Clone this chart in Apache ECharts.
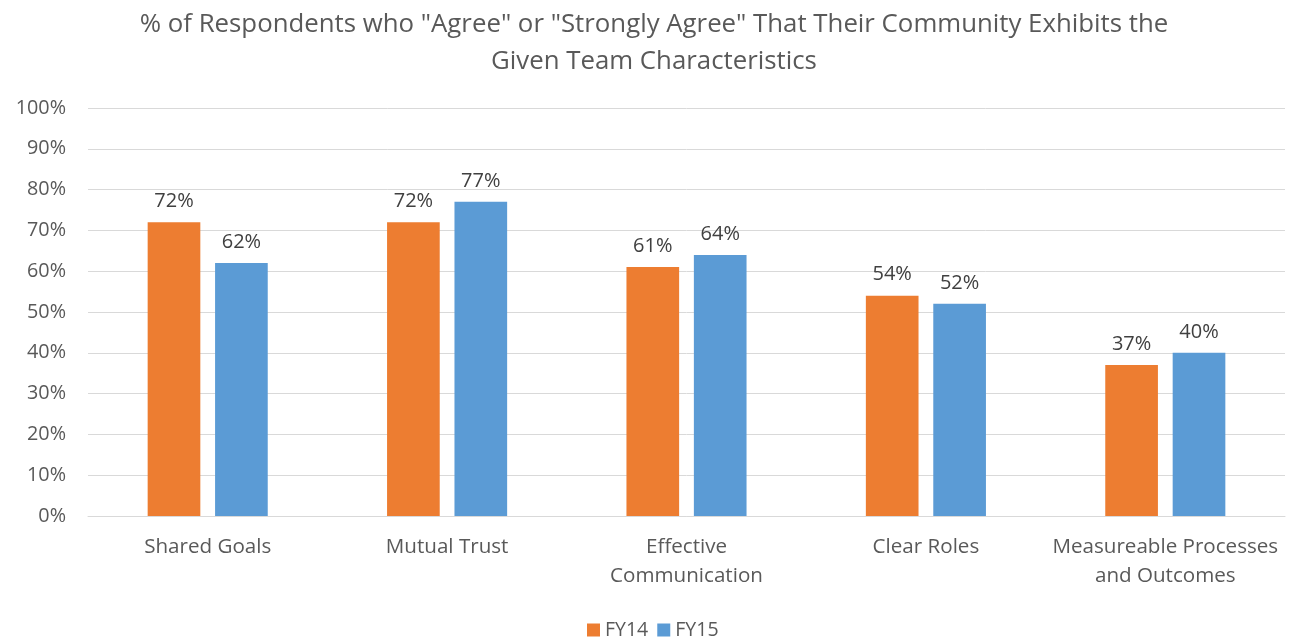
<!DOCTYPE html>
<html>
<head>
<meta charset="utf-8">
<script src="https://cdn.jsdelivr.net/npm/echarts@6/dist/echarts.min.js"></script>
<style>html,body{margin:0;padding:0;background:#fff}#c{width:1293px;height:639px}</style>
</head>
<body>
<div id="c"></div>
<script>
const categories = ["Shared Goals", "Mutual Trust", "Effective\nCommunication", "Clear Roles", "Measureable Processes\nand Outcomes"];
const fy14 = [72, 72, 61, 54, 37];
const fy15 = [62, 77, 64, 52, 40];
const seriesNames = ["FY14", "FY15"];
const titleText = "% of Respondents who \"Agree\" or \"Strongly Agree\" That Their Community Exhibits the\nGiven Team Characteristics";

const font = "'Open Sans', 'Noto Sans', sans-serif";
const chart = echarts.init(document.getElementById('c'));
const labelCfg = {show: true, position: 'top', distance: 11, formatter: p => p.value + '%', color: '#404040', fontSize: 20, fontFamily: font};
chart.setOption({
  animation: false,
  title: {text: titleText, left: 649, textAlign: 'center', top: 1, textStyle: {color: '#595959', fontSize: 25.8, fontWeight: 'normal', fontFamily: font, lineHeight: 37}},
  legend: {bottom: -6, left: 582, itemWidth: 13, itemHeight: 13, itemGap: 9, icon: 'rect', textStyle: {color: '#595959', fontSize: 19.5, fontFamily: font}},
  grid: {left: 88, right: 8, top: 108, bottom: 123, containLabel: false},
  xAxis: {type: 'category', data: categories, axisTick: {show: false}, axisLine: {lineStyle: {color: '#d9d9d9'}},
    axisLabel: {color: '#595959', fontSize: 20.6, fontFamily: font, margin: 17, lineHeight: 29, interval: 0}},
  yAxis: {type: 'value', min: 0, max: 100, interval: 10, axisLabel: {formatter: '{value}%', color: '#595959', fontSize: 19.8, fontFamily: font, margin: 22},
    splitLine: {lineStyle: {color: '#d9d9d9'}}, axisLine: {show: false}, axisTick: {show: false}},
  series: [
    {name: seriesNames[0], type: 'bar', data: fy14, barWidth: '22%', barGap: '28%', itemStyle: {color: '#ED7D31'}, label: labelCfg},
    {name: seriesNames[1], type: 'bar', data: fy15, barWidth: '22%', barGap: '28%', itemStyle: {color: '#5B9BD5'}, label: labelCfg}
  ]
});
</script>
</body>
</html>
